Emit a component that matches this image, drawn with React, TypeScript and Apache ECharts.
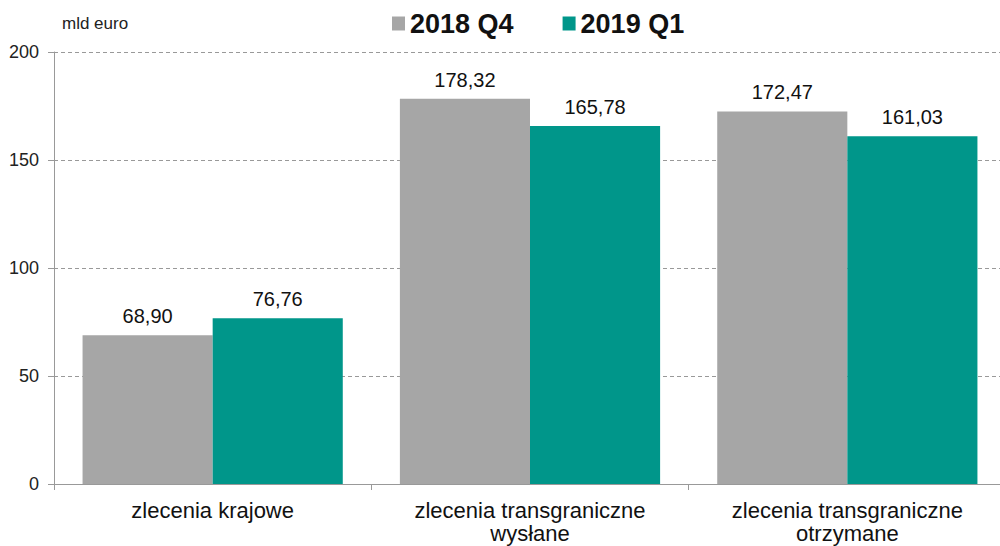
import React, { useEffect, useRef } from "react";
import * as echarts from "echarts";

const categories = ["zlecenia krajowe", "zlecenia transgraniczne\nwysłane", "zlecenia transgraniczne\notrzymane"];
const series2018Q4 = [68.9, 178.32, 172.47];
const series2019Q1 = [76.76, 165.78, 161.03];
const seriesNames = ["2018 Q4", "2019 Q1"];
const yTicks = { min: 0, max: 200, interval: 50 };
const unitLabel = "mld euro";

const fmt = (v: number) => v.toFixed(2).replace(".", ",");

export default function App() {
  const ref = useRef<HTMLDivElement>(null);
  useEffect(() => {
    if (!ref.current) return;
    const chart = echarts.init(ref.current, undefined, { renderer: "svg" });
    const font = "Liberation Sans, Arial, sans-serif";
    const labelCfg = {
      show: true,
      position: "top" as const,
      distance: 9,
      fontSize: 20,
      color: "#111",
      fontFamily: font,
      formatter: (p: any) => fmt(p.value),
    };
    chart.setOption({
      animation: false,
      textStyle: { fontFamily: font },
      legend: {
        top: 10,
        left: 392,
        padding: 0,
        itemWidth: 13,
        itemHeight: 14,
        itemGap: 49,
        icon: "rect",
        textStyle: { fontSize: 27, fontWeight: "bold", color: "#111", fontFamily: font },
        data: seriesNames,
      },
      graphic: [
        {
          type: "text",
          left: 62,
          top: 15,
          style: { text: unitLabel, fontSize: 17, fill: "#222", fontFamily: font },
        },
      ],
      grid: { left: 54, width: 952, top: 52, bottom: 62, containLabel: false, outerBoundsMode: "none" },
      xAxis: {
        type: "category",
        data: categories,
        axisLine: { show: true, lineStyle: { color: "#999", width: 1 } },
        axisTick: { show: true, length: 6, lineStyle: { color: "#999" } },
        axisLabel: { fontSize: 22, color: "#111", margin: 15, lineHeight: 23, fontFamily: font },
      },
      yAxis: {
        type: "value",
        min: yTicks.min,
        max: yTicks.max,
        interval: yTicks.interval,
        axisLine: { show: true, lineStyle: { color: "#999", width: 1 } },
        axisTick: { show: true, length: 6, lineStyle: { color: "#999" } },
        axisLabel: { fontSize: 18, color: "#222", margin: 15, fontFamily: font },
        splitLine: { show: true, lineStyle: { color: "#999", type: [4, 3], width: 1 } },
      },
      series: [
        {
          name: seriesNames[0],
          type: "bar",
          data: series2018Q4,
          barGap: "0%",
          barCategoryGap: "18%",
          itemStyle: { color: "#A6A6A6" },
          label: labelCfg,
        },
        {
          name: seriesNames[1],
          type: "bar",
          data: series2019Q1,
          barGap: "0%",
          barCategoryGap: "18%",
          itemStyle: { color: "#00968A" },
          label: labelCfg,
        },
      ],
    });
    return () => chart.dispose();
  }, []);
  return (
    <div
      ref={ref}
      style={{ position: "absolute", left: 0, top: 0, width: 1000, height: 546, background: "#fff" }}
    />
  );
}
